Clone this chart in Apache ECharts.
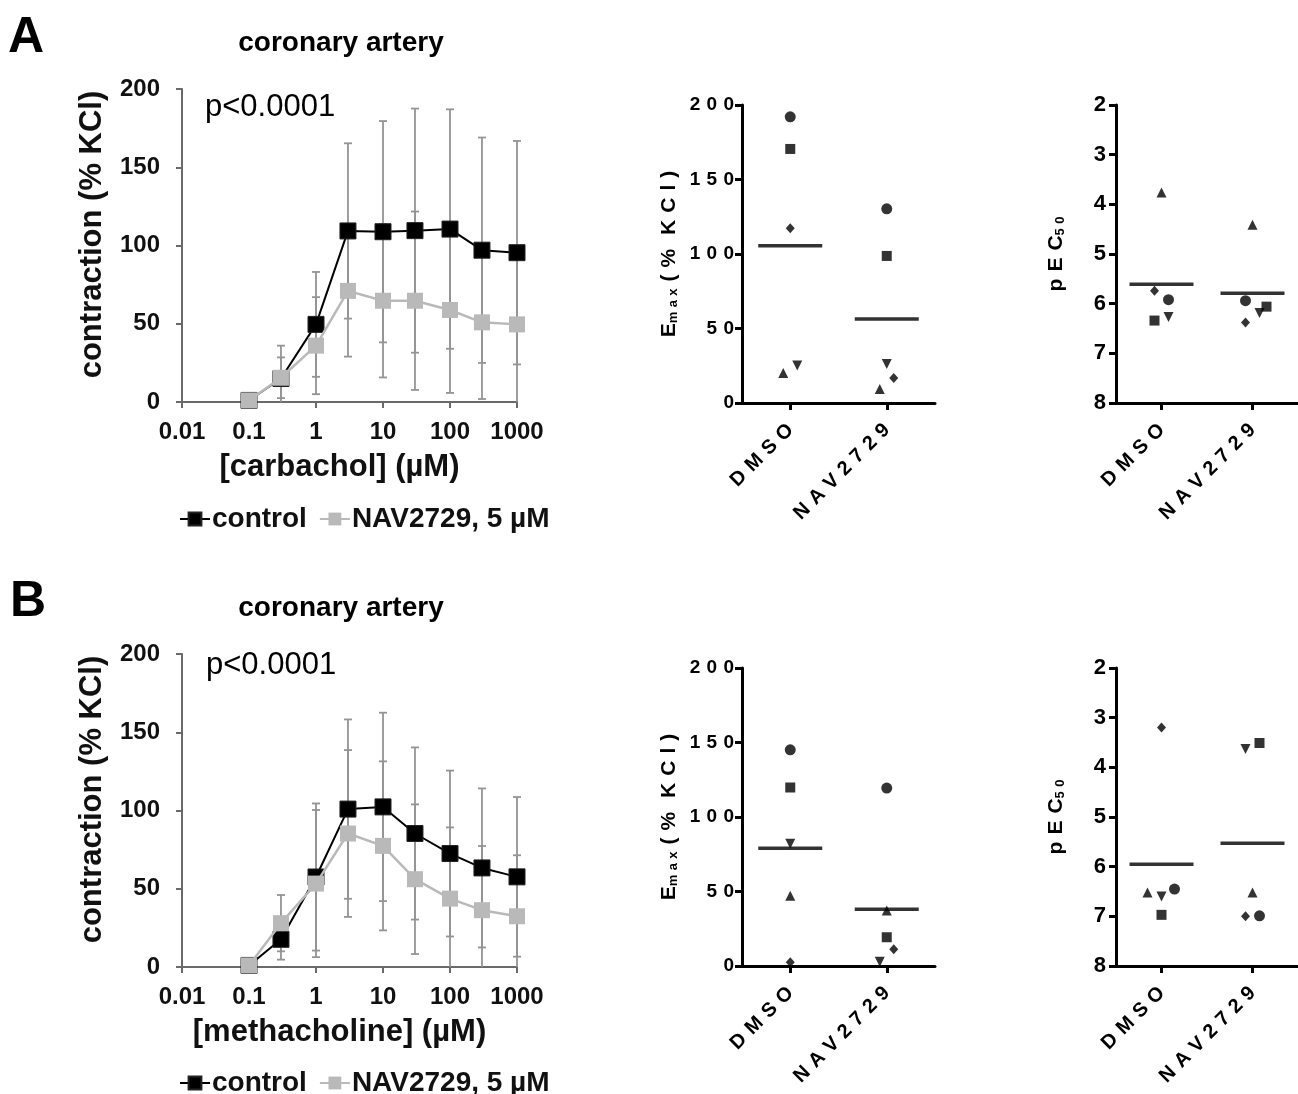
<!DOCTYPE html>
<html><head><meta charset="utf-8">
<script src="https://cdn.jsdelivr.net/npm/echarts@6/dist/echarts.min.js"></script>
<style>html,body{margin:0;padding:0;background:#fff}#c{width:1298px;height:1094px}</style>
</head><body><div id="c"></div>
<script>
// ---------- data ----------
const doses = [0.1, 0.3, 1, 3, 10, 30, 100, 300, 1000];
const xTickLabels = ['0.01', '0.1', '1', '10', '100', '1000'];
const seriesNames = ['control', 'NAV2729, 5 µM'];

const ctrlA    = [1, 15, 49.6, 109.3, 108.8, 109.5, 110.5, 97, 95.4];
const ctrlA_sd = [0, 21, 33.5, 56, 70.7, 78, 76.5, 72, 71.4];
const navA     = [1, 15.5, 36, 71, 64.7, 64.7, 58.8, 50.9, 49.6];
const navA_sd  = [0, 13, 31, 42, 49, 57, 53, 49, 50];

const ctrlB    = [1, 17.7, 57.5, 100.9, 102.3, 85.3, 72.5, 63.3, 57.6];
const ctrlB_sd = [0, 13, 47, 57.3, 60.2, 55, 53, 50.8, 51];
const navB     = [1, 28, 53.3, 85.3, 77.4, 56.1, 43.7, 36.3, 32.4];
const navB_sd  = [0, 18, 47, 53.3, 54, 47.8, 45.5, 41, 39];

const groups = ['DMSO', 'NAV2729'];
// Emax A  [DMSO, NAV2729]
const emaxA_circle = [192.1, 130.3];
const emaxA_square = [170.5, 98.7];
const emaxA_diamond = [117.3, 16.8];
const emaxA_triUp = [20.1, 9.4];
const emaxA_triDown = [25.2, 26.1];
const emaxA_mean = [105.5, 56.3];
// pEC50 A
const pecA_circle = [5.92, 5.94];
const pecA_square = [6.34, 6.06];
const pecA_diamond = [5.74, 6.38];
const pecA_triUp = [3.76, 4.41];
const pecA_triDown = [6.27, 6.19];
const pecA_mean = [5.61, 5.79];
// Emax B
const emaxB_circle = [145.1, 119.4];
const emaxB_square = [119.8, 19.3];
const emaxB_diamond = [2.5, 11.2];
const emaxB_triUp = [47.2, 37.2];
const emaxB_triDown = [82, 2.9];
const emaxB_mean = [79.1, 38.1];
// pEC50 B
const pecB_circle = [6.45, 6.99];
const pecB_square = [6.97, 3.51];
const pecB_diamond = [3.20, 7.0];
const pecB_triUp = [6.52, 6.52];
const pecB_triDown = [6.60, 3.63];
const pecB_mean = [5.95, 5.53];

// ---------- styling (jitter offsets in px, per group) ----------
const jitEmaxA = {circle:[0,0], square:[0,0], diamond:[0,7], triUp:[-7,-7], triDown:[7,0]};
const jitPecA  = {circle:[7,-7], square:[-7,14], diamond:[-7,-7], triUp:[0,0], triDown:[7,7]};
const jitEmaxB = {circle:[0,0], square:[0,0], diamond:[0,7], triUp:[0,0], triDown:[0,-7]};
const jitPecB  = {circle:[13,7], square:[0,7], diamond:[0,-7], triUp:[-14,0], triDown:[0,-7]};

const FF = '"Liberation Sans", Arial, sans-serif';
const GRAY = '#b9b9b9';
const ERR = '#949494';
const SP = '\u2004';
const spaced = s => String(s).split('').join(SP);

const chart = echarts.init(document.getElementById('c'), null, {renderer: 'canvas'});

function errRender(params, api) {
  const x = api.value(0), m = api.value(1), sd = api.value(2);
  if (!sd) return null;
  const top = api.coord([x, m + sd]);
  const lo = Math.max(m - sd, 0);
  const bot = api.coord([x, lo]);
  const st = {stroke: ERR, lineWidth: 1.8};
  const ch = [
    {type: 'line', shape: {x1: top[0], y1: top[1], x2: bot[0], y2: bot[1]}, style: st},
    {type: 'line', shape: {x1: top[0] - 4, y1: top[1], x2: top[0] + 4, y2: top[1]}, style: st}
  ];
  if (m - sd >= 0) ch.push({type: 'line', shape: {x1: bot[0] - 4, y1: bot[1], x2: bot[0] + 4, y2: bot[1]}, style: st});
  return {type: 'group', children: ch};
}

const grids = [
  {left: 182, top: 89, width: 335, height: 313},
  {left: 742, top: 105, width: 193, height: 298},
  {left: 1116, top: 105, width: 190, height: 298},
  {left: 182, top: 654, width: 335, height: 313},
  {left: 742, top: 668, width: 193, height: 298},
  {left: 1116, top: 668, width: 190, height: 298}
];

function lineX(gi, name) {
  return {
    type: 'log', logBase: 10, min: 0.01, max: 1000, gridIndex: gi,
    name: name, nameLocation: 'middle', nameGap: 50,
    nameTextStyle: {fontFamily: FF, fontWeight: 'bold', fontSize: 31, color: '#111', padding: [0, 20, 0, 0]},
    axisLine: {lineStyle: {color: '#6a6a6a', width: 2}},
    axisTick: {show: true, length: 6, lineStyle: {color: '#6a6a6a', width: 2}},
    minorTick: {show: false},
    splitLine: {show: false},
    axisLabel: {fontFamily: FF, fontWeight: 'bold', fontSize: 24, color: '#111', margin: 18,
      formatter: v => xTickLabels[Math.round(Math.log10(v)) + 2]}
  };
}
function lineY(gi) {
  return {
    type: 'value', min: 0, max: 200, interval: 50, gridIndex: gi,
    name: 'contraction (% KCl)', nameLocation: 'middle', nameGap: 74,
    nameTextStyle: {fontFamily: FF, fontWeight: 'bold', fontSize: 31, color: '#111', padding: [0, 0, 0, 22]},
    axisLine: {show: true, lineStyle: {color: '#6a6a6a', width: 2}},
    axisTick: {show: true, length: 6, lineStyle: {color: '#6a6a6a', width: 2}},
    splitLine: {show: false},
    axisLabel: {fontFamily: FF, fontWeight: 'bold', fontSize: 24, color: '#111', margin: 22}
  };
}
function catX(gi) {
  return {
    type: 'category', data: groups, gridIndex: gi,
    axisLine: {lineStyle: {color: '#000', width: 3}},
    axisTick: {show: true, alignWithLabel: true, length: 7, lineStyle: {color: '#000', width: 3}},
    splitLine: {show: false},
    axisLabel: {rotate: 45, fontFamily: FF, fontWeight: 'bold', fontSize: 20, color: '#000', margin: 24,
      formatter: spaced}
  };
}
const subRich = {s: {fontFamily: FF, fontWeight: 'bold', fontSize: 13, color: '#000', verticalAlign: 'bottom', padding: [7, 0, 0, 0]}};
function emaxY(gi) {
  return {
    type: 'value', min: 0, max: 200, interval: 50, gridIndex: gi,
    name: 'E{s|' + spaced('max') + '}' + SP + spaced('(%') + SP + SP + spaced('KCl)'), nameLocation: 'middle', nameGap: 62,
    nameTextStyle: {fontFamily: FF, fontWeight: 'bold', fontSize: 21, color: '#000', rich: subRich},
    axisLine: {show: true, lineStyle: {color: '#000', width: 3}},
    axisTick: {show: true, length: 7, lineStyle: {color: '#000', width: 3}},
    splitLine: {show: false},
    axisLabel: {fontFamily: FF, fontWeight: 'bold', fontSize: 19, color: '#000', margin: 8, formatter: spaced}
  };
}
function pecY(gi) {
  return {
    type: 'value', min: 2, max: 8, interval: 1, inverse: true, gridIndex: gi,
    name: spaced('pEC') + '{s|' + spaced('50') + '}', nameLocation: 'middle', nameGap: 49,
    nameTextStyle: {fontFamily: FF, fontWeight: 'bold', fontSize: 21, color: '#000', rich: subRich},
    axisLine: {show: true, lineStyle: {color: '#000', width: 3}},
    axisTick: {show: true, length: 7, lineStyle: {color: '#000', width: 3}},
    splitLine: {show: false},
    axisLabel: {fontFamily: FF, fontWeight: 'bold', fontSize: 22, color: '#000', margin: 10}
  };
}

const xAxes = [lineX(0, '[carbachol] (µM)'), catX(1), catX(2), lineX(3, '[methacholine] (µM)'), catX(4), catX(5)];
const yAxes = [lineY(0), emaxY(1), pecY(2), lineY(3), emaxY(4), pecY(5)];

const series = [];
function doseSeries(ai, ctrl, ctrlSd, nav, navSd) {
  series.push({type: 'custom', xAxisIndex: ai, yAxisIndex: ai, renderItem: errRender, z: 1, silent: true,
    data: doses.map((d, i) => [d, ctrl[i], ctrlSd[i]]), encode: {x: 0, y: 1}});
  series.push({type: 'custom', xAxisIndex: ai, yAxisIndex: ai, renderItem: errRender, z: 1, silent: true,
    data: doses.map((d, i) => [d, nav[i], navSd[i]]), encode: {x: 0, y: 1}});
  series.push({type: 'line', name: seriesNames[0], xAxisIndex: ai, yAxisIndex: ai, z: 3,
    data: doses.map((d, i) => [d, ctrl[i]]), symbol: 'rect', symbolSize: 16,
    itemStyle: {color: '#000', borderColor: '#222', borderWidth: 1}, lineStyle: {color: '#000', width: 2}});
  series.push({type: 'line', name: seriesNames[1], xAxisIndex: ai, yAxisIndex: ai, z: 4,
    data: doses.map((d, i) => [d, nav[i]]), symbol: 'rect', symbolSize: 16,
    itemStyle: {color: GRAY}, lineStyle: {color: GRAY, width: 2.5}});
}
const shapes = {
  circle: {symbol: 'circle', size: 11, rot: 0},
  square: {symbol: 'rect', size: 10, rot: 0},
  diamond: {symbol: 'diamond', size: [9, 10], rot: 0},
  triUp: {symbol: 'triangle', size: 10, rot: 0},
  triDown: {symbol: 'triangle', size: 10, rot: 180}
};
function dotSeries(ai, vals, jit) {
  Object.keys(shapes).forEach(k => {
    const sh = shapes[k];
    series.push({type: 'scatter', xAxisIndex: ai, yAxisIndex: ai, symbol: sh.symbol, symbolSize: sh.size,
      symbolRotate: sh.rot, itemStyle: {color: '#000'}, z: 3,
      data: vals[k].map((v, i) => ({value: [i, v], symbolOffset: [jit[k][i], 0]}))});
  });
  series.push({type: 'scatter', xAxisIndex: ai, yAxisIndex: ai, symbol: 'rect', symbolSize: [64, 3.5],
    itemStyle: {color: '#000'}, z: 2, data: vals.mean.map((v, i) => [i, v])});
}

doseSeries(0, ctrlA, ctrlA_sd, navA, navA_sd);
dotSeries(1, {circle: emaxA_circle, square: emaxA_square, diamond: emaxA_diamond, triUp: emaxA_triUp, triDown: emaxA_triDown, mean: emaxA_mean}, jitEmaxA);
dotSeries(2, {circle: pecA_circle, square: pecA_square, diamond: pecA_diamond, triUp: pecA_triUp, triDown: pecA_triDown, mean: pecA_mean}, jitPecA);
doseSeries(3, ctrlB, ctrlB_sd, navB, navB_sd);
dotSeries(4, {circle: emaxB_circle, square: emaxB_square, diamond: emaxB_diamond, triUp: emaxB_triUp, triDown: emaxB_triDown, mean: emaxB_mean}, jitEmaxB);
dotSeries(5, {circle: pecB_circle, square: pecB_square, diamond: pecB_diamond, triUp: pecB_triUp, triDown: pecB_triDown, mean: pecB_mean}, jitPecB);

function legend(top) {
  return {left: 174, top: top, itemWidth: 30, itemHeight: 16, itemGap: 12, data: seriesNames, selectedMode: false,
    textStyle: {fontFamily: FF, fontWeight: 'bold', fontSize: 28, color: '#111', padding: [0, 0, 0, -3]}};
}
function txt(x, y, text, size, weight, align) {
  return {type: 'text', x: x, y: y, silent: true,
    style: {text: text, fill: '#000', font: (weight || 'bold') + ' ' + size + 'px ' + FF,
      align: align || 'left', verticalAlign: 'middle'}};
}

chart.setOption({
  animation: false,
  backgroundColor: '#fff',
  grid: grids,
  xAxis: xAxes,
  yAxis: yAxes,
  legend: [legend(500), legend(1064)],
  series: series,
  graphic: [
    txt(8, 38, 'A', 50), txt(10, 602, 'B', 50),
    txt(341, 43, 'coronary artery', 28, 'bold', 'center'),
    txt(341, 608, 'coronary artery', 28, 'bold', 'center'),
    txt(205, 107, 'p<0.0001', 31, 'normal'),
    txt(206, 665, 'p<0.0001', 31, 'normal')
  ]
});
</script></body></html>
